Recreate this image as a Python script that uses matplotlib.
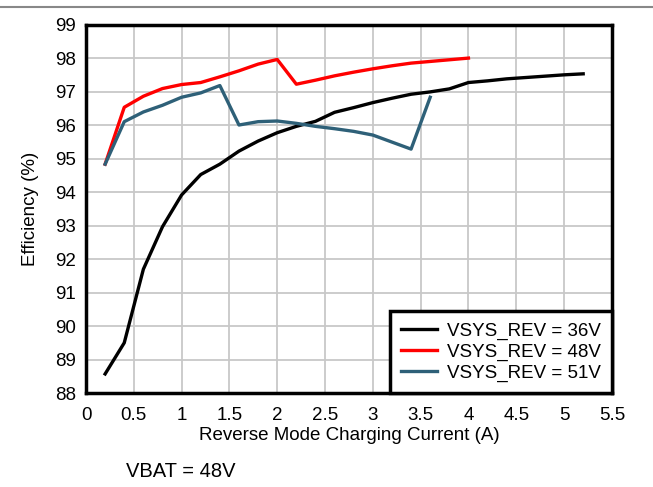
import numpy as np
import matplotlib
matplotlib.use("Agg")
import matplotlib.pyplot as plt

plt.rcParams['font.family'] = ['Liberation Sans', 'DejaVu Sans']

# reverse mode charging current (A)
x_36 = [0.2, 0.4, 0.6, 0.8, 1.0, 1.2, 1.4, 1.6, 1.8, 2.0, 2.2, 2.4, 2.6,
        2.8, 3.0, 3.2, 3.4, 3.6, 3.8, 4.0, 4.2, 4.4, 4.6, 4.8, 5.0, 5.2]
eff_36 = [88.57, 89.5, 91.7, 92.97, 93.92, 94.53, 94.84, 95.23, 95.53, 95.78,
          95.97, 96.12, 96.39, 96.53, 96.68, 96.81, 96.93, 97.0, 97.09, 97.28,
          97.33, 97.39, 97.43, 97.47, 97.51, 97.54]

x_48 = [0.2, 0.4, 0.6, 0.8, 1.0, 1.2, 1.4, 1.6, 1.8, 2.0, 2.2, 2.4, 2.6,
        2.8, 3.0, 3.2, 3.4, 3.6, 3.8, 4.0]
eff_48 = [94.84, 96.54, 96.87, 97.1, 97.22, 97.28, 97.45, 97.63, 97.83, 97.97,
          97.23, 97.35, 97.48, 97.59, 97.69, 97.78, 97.86, 97.91, 97.96, 98.01]

x_51 = [0.2, 0.4, 0.6, 0.8, 1.0, 1.2, 1.4, 1.6, 1.8, 2.0, 2.2, 2.4, 2.6,
        2.8, 3.0, 3.2, 3.4, 3.6]
eff_51 = [94.84, 96.11, 96.4, 96.6, 96.84, 96.97, 97.19, 96.01, 96.11, 96.13,
          96.06, 95.97, 95.9, 95.82, 95.71, 95.5, 95.29, 96.84]

labels = ['VSYS_REV = 36V', 'VSYS_REV = 48V', 'VSYS_REV = 51V']
xticks = np.arange(0, 5.51, 0.5)
yticks = np.arange(88, 99.1, 1)

fig = plt.figure(figsize=(6.53, 4.87), dpi=100)
ax = fig.add_axes([0.1317, 0.193, 0.8053, 0.7557])

ax.plot(x_36, eff_36, color='black', lw=2.4, label=labels[0])
ax.plot(x_48, eff_48, color='#ff0000', lw=2.4, label=labels[1])
ax.plot(x_51, eff_51, color='#2e6078', lw=2.4, label=labels[2])

ax.set_xlim(0, 5.5)
ax.set_ylim(88, 99)
ax.set_xticks(xticks)
ax.set_xticklabels(['%g' % t for t in xticks])
ax.set_yticks(yticks)
ax.set_yticklabels(['%d' % t for t in yticks])
ax.tick_params(length=0, labelsize=13.5)
ax.tick_params(axis='x', pad=10)
ax.tick_params(axis='y', pad=7)
ax.grid(True, color='#c8c8c8', lw=1.3)
ax.set_axisbelow(True)
for s in ax.spines.values():
    s.set_linewidth(2.5)
    s.set_color('black')

ax.set_xlabel('Reverse Mode Charging Current (A)', fontsize=13.5, labelpad=2)
ax.set_ylabel('Efficiency (%)', fontsize=13.5, labelpad=12)

leg = ax.legend(loc='lower right', fontsize=13.5, frameon=True, fancybox=False,
                borderaxespad=0, handlelength=1.95, labelspacing=0.2,
                borderpad=0.6, handletextpad=0.5)
leg.get_frame().set_edgecolor('black')
leg.get_frame().set_linewidth(2.5)
leg.get_frame().set_alpha(1)

fig.text(0.193, 0.021, 'VBAT = 48V', fontsize=14.5)
fig.add_artist(plt.Line2D([0, 1], [0.986, 0.986], color='#888888', lw=1.5))

fig.savefig('out.png', dpi=100)
